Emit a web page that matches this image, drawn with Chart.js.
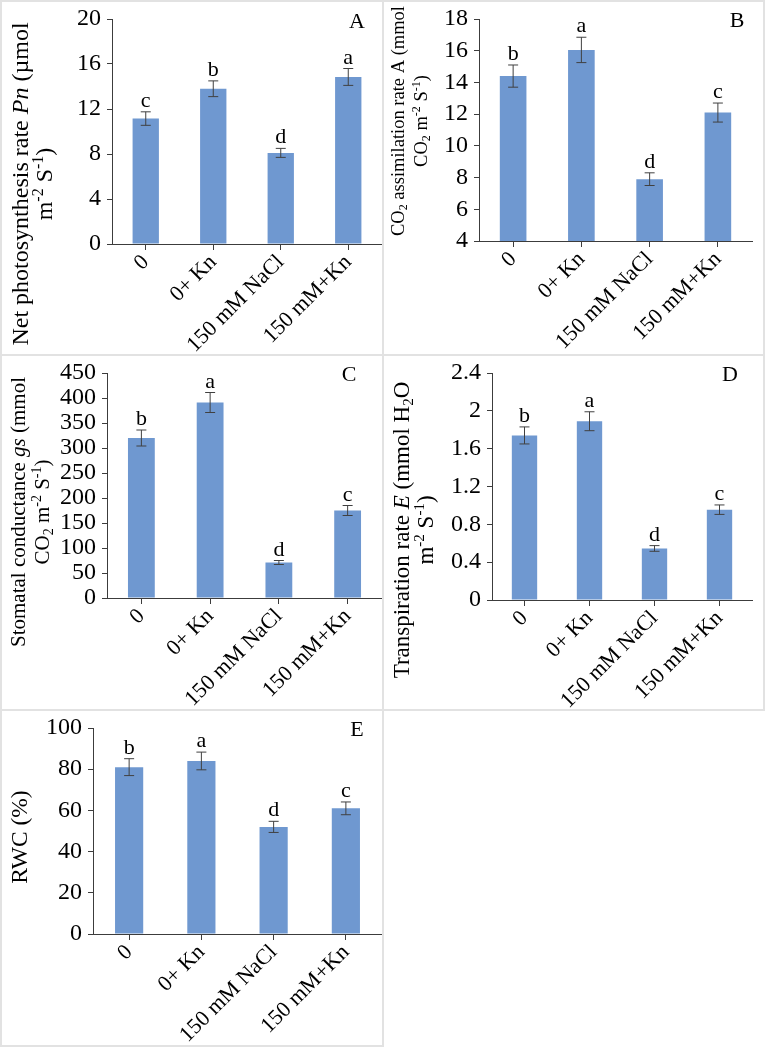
<!DOCTYPE html>
<html>
<head>
<meta charset="utf-8">
<script src="https://cdn.jsdelivr.net/npm/chart.js@4.4.1/dist/chart.umd.min.js"></script>
<style>
	body { margin: 0; background: #fff; }
	#wrap { position: relative; width: 768px; height: 1049px; }
	canvas { position: absolute; }
	.box { position: absolute; box-sizing: border-box; border: 2px solid #e2e2e2; }
</style>
</head>
<body>
<div id="wrap"></div>
<script>
var catLabels = ['0', '0+ Kn', '150 mM NaCl', '150 mM+Kn'];

var pnVals = [11.15, 13.8, 8.1, 14.85];
var pnErr = [0.6, 0.7, 0.4, 0.75];
var pnSig = ['c', 'b', 'd', 'a'];
var pnTicks = [0, 4, 8, 12, 16, 20];

var aVals = [14.4, 16.05, 7.9, 12.1];
var aErr = [0.7, 0.8, 0.4, 0.6];
var aSig = ['b', 'a', 'd', 'c'];
var aTicks = [4, 6, 8, 10, 12, 14, 16, 18];

var gsVals = [320, 391, 71, 175];
var gsErr = [16, 20, 4, 10];
var gsSig = ['b', 'a', 'd', 'c'];
var gsTicks = [0, 50, 100, 150, 200, 250, 300, 350, 400, 450];

var eVals = [1.74, 1.89, 0.545, 0.955];
var eErr = [0.09, 0.1, 0.03, 0.05];
var eSig = ['b', 'a', 'd', 'c'];
var eTicks = [0, 0.4, 0.8, 1.2, 1.6, 2, 2.4];

var rwcVals = [81, 84, 52, 61];
var rwcErr = [4.1, 4.3, 2.7, 3.1];
var rwcSig = ['b', 'a', 'd', 'c'];
var rwcTicks = [0, 20, 40, 60, 80, 100];

var serif = "'Liberation Serif', 'Times New Roman', serif";
var barColor = '#6f98d0';
var axisColor = '#3c3c3c';

// y title pieces: [text, style]  style: '' | 'i' | 'sup' | 'sub'
function segFont(st, size) {
	if (st == 'sup' || st == 'sub') return Math.round(size * 0.65) + 'px ' + serif;
	if (st == 'i') return 'italic ' + size + 'px ' + serif;
	return size + 'px ' + serif;
}
function drawRich(ctx, segs, cx, cy, size) {
	var total = 0;
	segs.forEach(function (s) {
		ctx.font = segFont(s[1], size);
		total += ctx.measureText(s[0]).width;
	});
	ctx.save();
	ctx.translate(cx, cy);
	ctx.rotate(-Math.PI / 2);
	ctx.fillStyle = '#000';
	ctx.textAlign = 'left';
	ctx.textBaseline = 'alphabetic';
	var x = -total / 2;
	var base = size * 0.33;
	segs.forEach(function (s) {
		ctx.font = segFont(s[1], size);
		var dy = s[1] == 'sup' ? -size * 0.38 : (s[1] == 'sub' ? size * 0.18 : 0);
		ctx.fillText(s[0], x, base + dy);
		x += ctx.measureText(s[0]).width;
	});
	ctx.restore();
}

var extras = {
	id: 'extras',
	afterDatasetsDraw: function (chart) {
		var p = chart.options.plugins.extras;
		var ctx = chart.ctx;
		var ys = chart.scales.y;
		var meta = chart.getDatasetMeta(0);
		ctx.save();
		ctx.strokeStyle = '#404040';
		ctx.lineWidth = 1;
		ctx.fillStyle = '#000';
		ctx.font = '22px ' + serif;
		ctx.textAlign = 'center';
		ctx.textBaseline = 'alphabetic';
		for (var i = 0; i < p.vals.length; i++) {
			var x = meta.data[i].x;
			var top = ys.getPixelForValue(p.vals[i] + p.err[i]);
			var bot = ys.getPixelForValue(p.vals[i] - p.err[i]);
			ctx.beginPath();
			ctx.moveTo(x, top); ctx.lineTo(x, bot);
			ctx.moveTo(x - 5, top); ctx.lineTo(x + 5, top);
			ctx.moveTo(x - 5, bot); ctx.lineTo(x + 5, bot);
			ctx.stroke();
			ctx.fillText(p.sig[i], x, top - 5);
		}
		// panel letter
		ctx.font = '22px ' + serif;
		ctx.textBaseline = 'middle';
		ctx.fillText(p.letter, p.letterPos[0] - p.x0, p.letterPos[1] - p.y0);
		// axis title
		for (var j = 0; j < p.title.length; j++) {
			var ln = p.title[j];
			drawRich(ctx, ln.segs, ln.x - p.x0, p.titleY - p.y0, p.titleSize);
		}
		ctx.restore();
	}
};

function fntPanel(cfg) {
	var wrap = document.getElementById('wrap');
	var cv = document.createElement('canvas');
	cv.width = cfg.box[2];
	cv.height = cfg.box[3];
	cv.style.left = cfg.box[0] + 'px';
	cv.style.top = cfg.box[1] + 'px';
	wrap.appendChild(cv);
	var x0 = cfg.box[0], y0 = cfg.box[1];
	var area = cfg.area;
	new Chart(cv, {
		type: 'bar',
		data: {
			labels: catLabels,
			datasets: [{
				data: cfg.vals,
				backgroundColor: barColor,
				borderWidth: 0,
				barPercentage: 0.39,
				categoryPercentage: 1
			}]
		},
		options: {
			responsive: false,
			animation: false,
			devicePixelRatio: 1,
			events: [],
			layout: { padding: { top: area[1] - y0, right: x0 + cfg.box[2] - area[2], left: 0, bottom: 0 } },
			plugins: {
				legend: { display: false },
				tooltip: { enabled: false },
				extras: {
					vals: cfg.vals, err: cfg.err, sig: cfg.sig, letter: cfg.letter, letterPos: cfg.letterPos,
					title: cfg.title, titleY: cfg.titleY, titleSize: cfg.titleSize, x0: x0, y0: y0
				}
			},
			scales: {
				x: {
					grid: { display: true, drawOnChartArea: false, offset: false, color: axisColor, tickLength: 6 },
					border: { color: axisColor, width: 1 },
					ticks: { minRotation: 45, maxRotation: 45, autoSkip: false, color: '#000', padding: 1, font: { family: serif, size: 22, lineHeight: 1 } },
					afterFit: function (s) { s.height = y0 + cfg.box[3] - area[3]; }
				},
				y: {
					min: cfg.ticks[0],
					max: cfg.ticks[cfg.ticks.length - 1],
					afterBuildTicks: function (s) { s.ticks = cfg.ticks.map(function (v) { return { value: v }; }); },
					grid: { display: true, drawOnChartArea: false, color: axisColor, tickLength: 5 },
					border: { color: axisColor, width: 1 },
					ticks: {
						color: '#000', padding: 6, autoSkip: false, font: { family: serif, size: 24, lineHeight: 1 },
						callback: function (v) { return String(+Number(v).toFixed(2)); }
					},
					afterFit: function (s) { s.width = area[0] - x0; }
				}
			}
		},
		plugins: [extras]
	});
	var b = document.createElement('div');
	b.className = 'box';
	b.style.left = (x0 - 1) + 'px';
	b.style.top = (y0 - 1) + 'px';
	b.style.width = (cfg.box[2] + 2) + 'px';
	b.style.height = (cfg.box[3] + 2) + 'px';
	wrap.appendChild(b);
}

document.addEventListener('DOMContentLoaded', function () {
	fntPanel({
		box: [1, 1, 382, 354], area: [112, 12, 382, 244],
		vals: pnVals, err: pnErr, sig: pnSig, ticks: pnTicks, letter: 'A', letterPos: [357, 22],
		titleY: 184, titleSize: 24,
		title: [
			{ x: 20, segs: [['Net photosynthesis rate ', ''], ['Pn', 'i'], [' (\u00b5mol', '']] },
			{ x: 44, segs: [['m', ''], ['-2', 'sup'], [' S', ''], ['-1', 'sup'], [')', '']] }
		]
	});
	fntPanel({
		box: [383, 1, 381, 354], area: [479, 12, 752, 241],
		vals: aVals, err: aErr, sig: aSig, ticks: aTicks, letter: 'B', letterPos: [737, 21],
		titleY: 121, titleSize: 18.5,
		title: [
			{ x: 398, segs: [['CO', ''], ['2', 'sub'], [' assimilation rate A (mmol', '']] },
			{ x: 421, segs: [['CO', ''], ['2', 'sub'], [' m', ''], ['-2', 'sup'], [' S', ''], ['-1', 'sup'], [')', '']] }
		]
	});
	fntPanel({
		box: [1, 355, 382, 355], area: [107, 367, 382, 598],
		vals: gsVals, err: gsErr, sig: gsSig, ticks: gsTicks, letter: 'C', letterPos: [349, 375],
		titleY: 512, titleSize: 21,
		title: [
			{ x: 18, segs: [['Stomatal conductance ', ''], ['gs', 'i'], [' (mmol', '']] },
			{ x: 42, segs: [['CO', ''], ['2', 'sub'], [' m', ''], ['-2', 'sup'], [' S', ''], ['-1', 'sup'], [')', '']] }
		]
	});
	fntPanel({
		box: [383, 355, 381, 355], area: [492, 367, 752, 600],
		vals: eVals, err: eErr, sig: eSig, ticks: eTicks, letter: 'D', letterPos: [730, 375],
		titleY: 530, titleSize: 23,
		title: [
			{ x: 401, segs: [['Transpiration rate ', ''], ['E', 'i'], [' (mmol H', ''], ['2', 'sub'], ['O', '']] },
			{ x: 425, segs: [['m', ''], ['-2', 'sup'], [' S', ''], ['-1', 'sup'], [')', '']] }
		]
	});
	fntPanel({
		box: [1, 710, 382, 336], area: [93, 722, 382, 934],
		vals: rwcVals, err: rwcErr, sig: rwcSig, ticks: rwcTicks, letter: 'E', letterPos: [357, 730],
		titleY: 837, titleSize: 23.5,
		title: [
			{ x: 19, segs: [['RWC (%)', '']] }
		]
	});
});
</script>
</body>
</html>
